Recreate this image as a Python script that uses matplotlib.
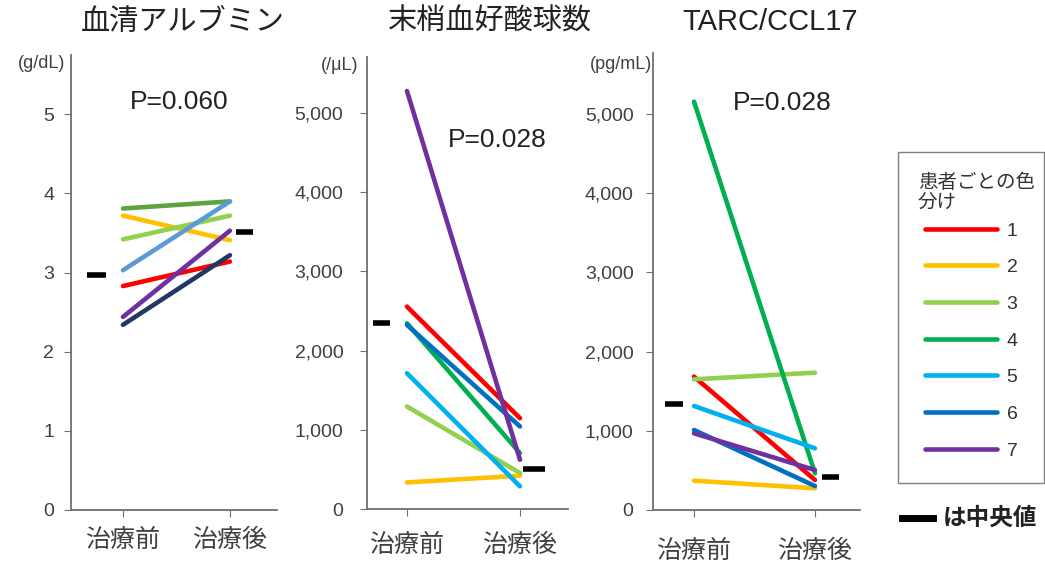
import matplotlib
matplotlib.use('Agg')
import matplotlib.pyplot as plt
from matplotlib.lines import Line2D
from matplotlib.patches import Rectangle
from matplotlib.ticker import FuncFormatter

plt.rcParams['font.family'] = ['Liberation Sans', 'Noto Sans CJK JP']

# data
categories = ['治療前', '治療後']
patients = ['1', '2', '3', '4', '5', '6', '7']
colors = ['#FF0000', '#FFC000', '#92D050', '#00B050', '#00B0F0', '#0070C0', '#7030A0']
colors_alb = ['#FF0000', '#FFC000', '#92D050', '#5EA33F', '#5B9BD5', '#1F3864', '#7030A0']

alb_before = [2.83, 3.72, 3.42, 3.81, 3.03, 2.34, 2.44]
alb_after = [3.14, 3.41, 3.72, 3.90, 3.90, 3.22, 3.53]
alb_median = [2.97, 3.51]

eos_before = [2555, 336, 1294, 2345, 1714, 2324, 5277]
eos_after = [1147, 420, 454, 706, 286, 1042, 622]
eos_median = [2353, 504]

tarc_before = [1684, 370, 1650, 5156, 1313, 1010, 968]
tarc_after = [379, 274, 1734, 463, 779, 303, 505]
tarc_median = [1338, 421]

titles = ['血清アルブミン', '末梢血好酸球数', 'TARC/CCL17']
units = ['(g/dL)', '(/μL)', '(pg/mL)']
pvalues = ['P=0.060', 'P=0.028', 'P=0.028']

W, H = 1045, 569
fig = plt.figure(figsize=(W / 100, H / 100), dpi=100)

def box(l, r, b, t):
    return [l / W, 1 - b / H, (r - l) / W, (b - t) / H]

panels = [
    dict(rect=box(71, 277, 510, 55), xlim=(-0.486, 1.44), ylim=(0, 5.75), yt=range(6),
         before=alb_before, after=alb_after, med=alb_median, cols=colors_alb,
         mx=[(-0.336, -0.159), (1.056, 1.215)], p=(0.53, 5.15), unit=(-0.03, 0.982),
         ypad=7, xpad=8, tx=183),
    dict(rect=box(367, 568, 509, 57), xlim=(-0.354, 1.425), ylim=(0, 5707), yt=range(0, 6000, 1000),
         before=eos_before, after=eos_after, med=eos_median, cols=colors,
         mx=[(-0.30, -0.15), (1.03, 1.22)], p=(0.80, 4659), unit=(-0.045, 0.982),
         ypad=12, xpad=12, tx=490),
    dict(rect=box(653, 860, 510, 53), xlim=(-0.339, 1.372), ylim=(0, 5770), yt=range(0, 6000, 1000),
         before=tarc_before, after=tarc_after, med=tarc_median, cols=colors,
         mx=[(-0.24, -0.09), (1.06, 1.20)], p=(0.73, 5139), unit=(-0.005, 0.974),
         ypad=9, xpad=16, tx=770),
]

axes = []
for i, pn in enumerate(panels):
    ax = fig.add_axes(pn['rect'])
    for b, a, c, name in zip(pn['before'], pn['after'], pn['cols'], patients):
        ax.plot([0, 1], [b, a], color=c, lw=3.3, solid_capstyle='round', label=name)
    for (x0, x1), m in zip(pn['mx'], pn['med']):
        ax.plot([x0, x1], [m, m], color='black', lw=4, solid_capstyle='butt')
    ax.set_xlim(*pn['xlim'])
    ax.set_ylim(*pn['ylim'])
    ax.set_xticks([0, 1])
    ax.set_xticklabels(categories, fontsize=18, color='#404040')
    ax.set_yticks(list(pn['yt']))
    if i > 0:
        ax.yaxis.set_major_formatter(FuncFormatter(lambda v, _: f'{int(v):,}'))
    ax.tick_params(axis='y', labelsize=14, labelcolor='#404040', color='#707070',
                   length=5, pad=pn['ypad'])
    ax.tick_params(axis='x', color='#707070', length=5, pad=pn['xpad'])
    for s in ['top', 'right']:
        ax.spines[s].set_visible(False)
    for s in ['left', 'bottom']:
        ax.spines[s].set_color('#707070')
        ax.spines[s].set_linewidth(1.3)
    ax.text(pn['p'][0], pn['p'][1], pvalues[i], fontsize=19, color='#222222',
            ha='center', va='center')
    ax.text(pn['unit'][0], pn['unit'][1], units[i], transform=ax.transAxes,
            fontsize=13, color='#404040', ha='right', va='center')
    fig.text(pn['tx'] / W, 1 - 22 / H, titles[i], fontsize=21, color='#222222',
             ha='center', va='center')
    axes.append(ax)

# legend: frame, title and entries placed separately
fig.add_artist(Rectangle((898 / W, 1 - 483 / H), (1044 - 898) / W, (483 - 152) / H,
                         transform=fig.transFigure, fill=False, edgecolor='#808080', lw=1.0))
fig.text(918 / W, 1 - 174 / H, '患者ごとの色\n分け', fontsize=14, color='#333333',
         ha='left', va='top', linespacing=1.2)
handles = axes[2].get_lines()[:len(patients)]
leg = fig.legend(handles, patients, loc='upper left',
                 bbox_to_anchor=(925 / W, 1 - 222 / H), borderaxespad=0, borderpad=0,
                 fontsize=14, handlelength=3.7, handletextpad=0.5,
                 labelspacing=0.98, frameon=False)
for t in leg.get_texts():
    t.set_color('#333333')

fig.add_artist(Line2D([902 / W, 933 / W], [1 - 518 / H, 1 - 518 / H],
                      transform=fig.transFigure, color='black', lw=5))
fig.text(943 / W, 1 - 518 / H, 'は中央値', fontsize=17, fontweight='bold',
         color='#222222', ha='left', va='center')

fig.savefig('out.png', dpi=100)
